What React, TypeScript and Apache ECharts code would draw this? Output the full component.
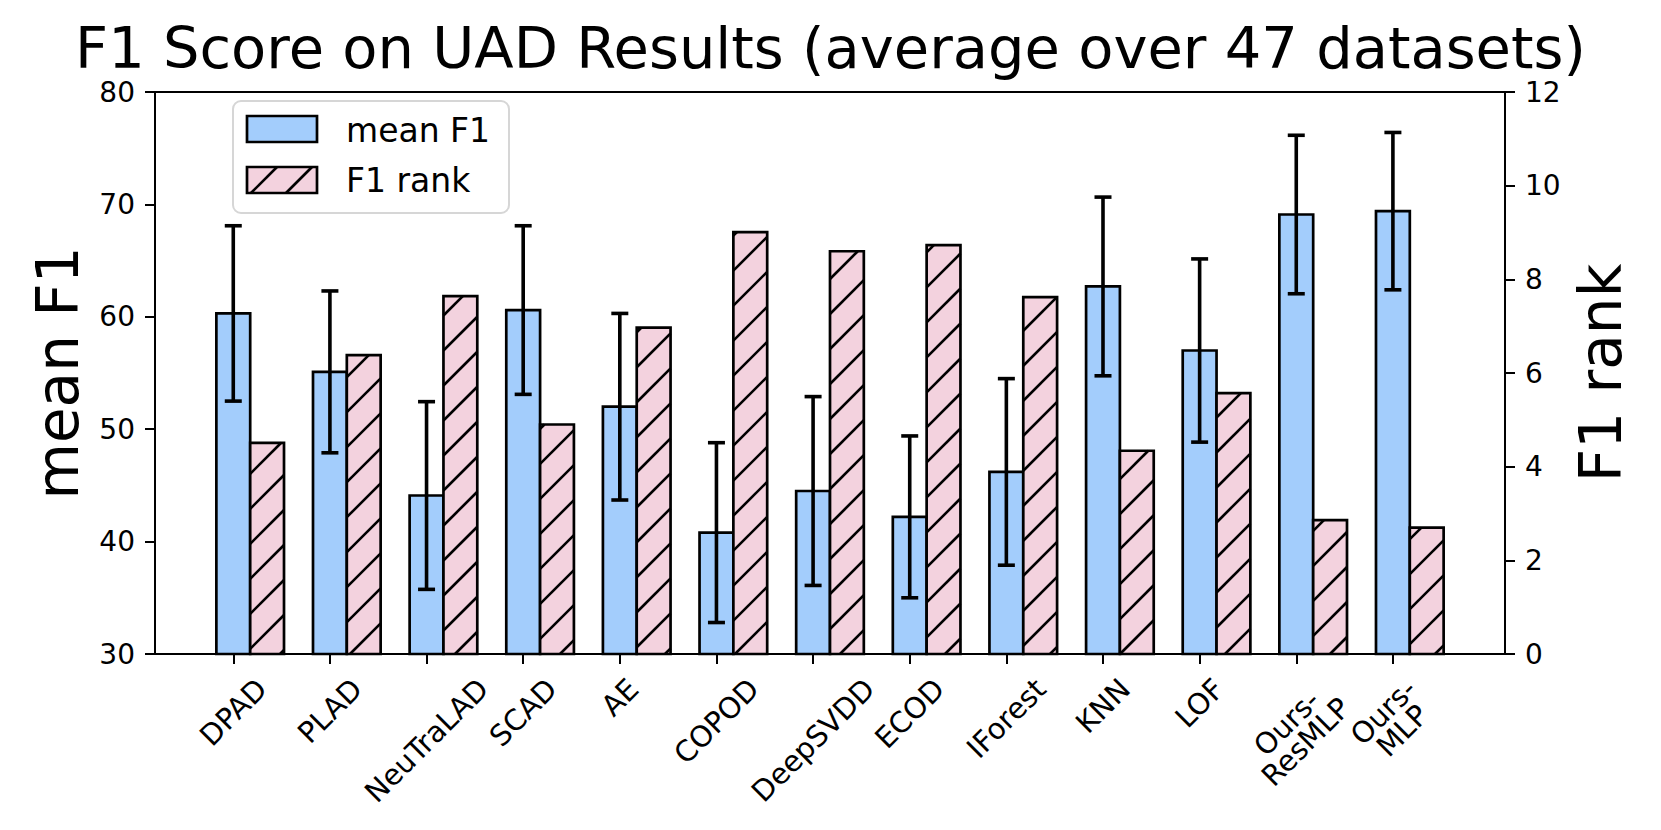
import React, { useEffect, useRef } from 'react';
import * as echarts from 'echarts';

const categories = [
  'DPAD', 'PLAD', 'NeuTraLAD', 'SCAD', 'AE', 'COPOD', 'DeepSVDD', 'ECOD',
  'IForest', 'KNN', 'LOF', 'Ours-\nResMLP', 'Ours-\nMLP',
];
const meanF1 = [60.3, 55.1, 44.1, 60.6, 52.0, 40.8, 44.5, 42.2, 46.2, 62.7, 57.0, 69.1, 69.4];
const f1Err = [7.8, 7.2, 8.35, 7.5, 8.3, 8.0, 8.4, 7.2, 8.3, 7.95, 8.15, 7.05, 7.0];
const f1Rank = [4.51, 6.38, 7.64, 4.9, 6.97, 9.01, 8.6, 8.73, 7.62, 4.34, 5.57, 2.86, 2.7];
const tickPositions = categories.map((_, i) => i);

const FONT = '"DejaVu Sans", sans-serif';
const BLUE = '#a3cdfc';
const PINK = '#f3d2de';
const BAR_W = 0.35;
const HATCH = 35;
const HATCH_PHASE = 24;
const LABEL_FS = 29;
const TICK_FS = 28;
const EDGE_W = 2.7;
const HATCH_W = 2.6;

function hatchLines(x0: number, y0: number, x1: number, y1: number) {
  const out: any[] = [];
  const cMin = x0 + y0;
  const cMax = x1 + y1;
  const k = Math.ceil((cMin - HATCH_PHASE) / HATCH);
  for (let c = k * HATCH + HATCH_PHASE; c <= cMax; c += HATCH) {
    const lo = Math.max(x0, c - y1);
    const hi = Math.min(x1, c - y0);
    if (hi - lo > 0.5) {
      out.push({
        type: 'line',
        shape: { x1: lo, y1: c - lo, x2: hi, y2: c - hi },
        style: { stroke: '#000', lineWidth: HATCH_W },
      });
    }
  }
  return out;
}

let measureCtx: CanvasRenderingContext2D | null = null;
function textWidth(s: string, fs: number) {
  if (!measureCtx) {
    const c = document.createElement('canvas');
    measureCtx = c.getContext('2d');
  }
  if (!measureCtx) return s.length * fs * 0.6;
  measureCtx.font = `${fs}px "DejaVu Sans"`;
  return measureCtx.measureText(s).width;
}

export default function App() {
  const ref = useRef<HTMLDivElement>(null);

  useEffect(() => {
    document.body.style.margin = '0';
    if (!ref.current) return;
    const chart = echarts.init(ref.current, null, { renderer: 'svg' });

    const legendElems: any[] = [
      {
        type: 'rect',
        shape: { x: 233, y: 101, width: 276, height: 112, r: 8 },
        style: { fill: '#fff', stroke: '#d6d6d6', lineWidth: 2 },
      },
      {
        type: 'rect',
        shape: { x: 247, y: 116, width: 70, height: 26 },
        style: { fill: BLUE, stroke: '#000', lineWidth: EDGE_W },
      },
      {
        type: 'rect',
        shape: { x: 247, y: 167, width: 70, height: 26 },
        style: { fill: PINK, stroke: 'none' },
      },
      ...hatchLines(247, 167, 317, 193),
      {
        type: 'rect',
        shape: { x: 247, y: 167, width: 70, height: 26 },
        style: { fill: 'none', stroke: '#000', lineWidth: EDGE_W },
      },
      {
        type: 'text',
        x: 346,
        y: 130,
        style: {
          text: 'mean F1', fill: '#000', fontSize: 33, fontFamily: FONT,
          textAlign: 'left', textVerticalAlign: 'middle',
        },
      },
      {
        type: 'text',
        x: 346,
        y: 180,
        style: {
          text: 'F1 rank', fill: '#000', fontSize: 33, fontFamily: FONT,
          textAlign: 'left', textVerticalAlign: 'middle',
        },
      },
    ];

    const option: any = {
      animation: false,
      backgroundColor: '#fff',
      title: {
        text: 'F1 Score on UAD Results (average over 47 datasets)',
        left: 'center',
        top: 22,
        padding: 0,
        textStyle: {
          fontSize: 57.5, lineHeight: 52, fontWeight: 'normal', fontFamily: FONT, color: '#000',
        },
      },
      grid: {
        left: 155, right: 156, top: 92, bottom: 176,
        show: true, borderColor: '#000', borderWidth: 2, backgroundColor: 'transparent',
        containLabel: false,
      },
      xAxis: {
        type: 'value',
        min: -0.81,
        max: 13.16,
        axisLine: { show: false, onZero: false },
        splitLine: { show: false },
        axisLabel: { show: false, customValues: tickPositions },
        axisTick: {
          show: true, customValues: tickPositions, length: 10,
          lineStyle: { color: '#000', width: 2 },
        },
      },
      yAxis: [
        {
          type: 'value', min: 30, max: 80, interval: 10, position: 'left',
          axisLine: { show: false, onZero: false },
          splitLine: { show: false },
          axisTick: { show: true, length: 10, lineStyle: { color: '#000', width: 2 } },
          axisLabel: { fontSize: TICK_FS, color: '#000', fontFamily: FONT, margin: 20 },
          name: 'mean F1', nameLocation: 'middle', nameRotate: 90, nameGap: 97,
          nameTextStyle: {
            fontSize: 58, fontFamily: FONT, color: '#000', align: 'center', verticalAlign: 'middle',
          },
        },
        {
          type: 'value', min: 0, max: 12, interval: 2, position: 'right',
          axisLine: { show: false, onZero: false },
          splitLine: { show: false },
          axisTick: { show: true, length: 10, lineStyle: { color: '#000', width: 2 } },
          axisLabel: { fontSize: TICK_FS, color: '#000', fontFamily: FONT, margin: 20 },
          name: 'F1 rank', nameLocation: 'middle', nameRotate: 90, nameGap: 93,
          nameTextStyle: {
            fontSize: 58, fontFamily: FONT, color: '#000', align: 'center', verticalAlign: 'middle',
          },
        },
      ],
      graphic: { elements: legendElems },
      series: [
        {
          type: 'custom',
          name: 'mean F1',
          xAxisIndex: 0,
          yAxisIndex: 0,
          data: meanF1.map((v, i) => [i, v]),
          renderItem: (params: any, api: any) => {
            const x = api.value(0);
            const v = api.value(1);
            const tl = api.coord([x - BAR_W / 2, v]);
            const br = api.coord([x + BAR_W / 2, 30]);
            return {
              type: 'rect',
              shape: { x: tl[0], y: tl[1], width: br[0] - tl[0], height: br[1] - tl[1] },
              style: { fill: BLUE, stroke: '#000', lineWidth: EDGE_W },
            };
          },
        },
        {
          type: 'custom',
          name: 'F1 rank',
          xAxisIndex: 0,
          yAxisIndex: 1,
          data: f1Rank.map((v, i) => [i + BAR_W, v]),
          renderItem: (params: any, api: any) => {
            const x = api.value(0);
            const v = api.value(1);
            const tl = api.coord([x - BAR_W / 2, v]);
            const br = api.coord([x + BAR_W / 2, 0]);
            const w = br[0] - tl[0];
            const h = br[1] - tl[1];
            return {
              type: 'group',
              children: [
                { type: 'rect', shape: { x: tl[0], y: tl[1], width: w, height: h }, style: { fill: PINK, stroke: 'none' } },
                ...hatchLines(tl[0], tl[1], br[0], br[1]),
                { type: 'rect', shape: { x: tl[0], y: tl[1], width: w, height: h }, style: { fill: 'none', stroke: '#000', lineWidth: EDGE_W } },
              ],
            };
          },
        },
        {
          type: 'custom',
          name: 'error',
          xAxisIndex: 0,
          yAxisIndex: 0,
          data: meanF1.map((v, i) => [i, v - f1Err[i], v + f1Err[i]]),
          renderItem: (params: any, api: any) => {
            const x = api.value(0);
            const lo = api.coord([x, api.value(1)]);
            const hi = api.coord([x, api.value(2)]);
            const cap = 8.5;
            const st = { stroke: '#000', lineWidth: 3.6 };
            return {
              type: 'group',
              children: [
                { type: 'line', shape: { x1: lo[0], y1: lo[1], x2: hi[0], y2: hi[1] }, style: st },
                { type: 'line', shape: { x1: lo[0] - cap, y1: lo[1], x2: lo[0] + cap, y2: lo[1] }, style: st },
                { type: 'line', shape: { x1: hi[0] - cap, y1: hi[1], x2: hi[0] + cap, y2: hi[1] }, style: st },
              ],
            };
          },
        },
        {
          type: 'custom',
          name: 'labels',
          xAxisIndex: 0,
          yAxisIndex: 0,
          silent: true,
          data: categories.map((_, i) => [i, 30]),
          renderItem: (params: any, api: any) => {
            const i = api.value(0);
            const p = api.coord([i, 30]);
            const text = categories[params.dataIndex];
            const lines = text.split('\n');
            const w = Math.max(...lines.map((l) => textWidth(l, LABEL_FS)));
            const lh = 0.92 * LABEL_FS;
            const hh = 0.968 * LABEL_FS + lh * (lines.length - 1);
            const bboxH = (w + hh) / Math.SQRT2;
            const top = p[1] + 10 + 10;
            return {
              type: 'text',
              x: p[0],
              y: top + bboxH / 2,
              rotation: Math.PI / 4,
              style: {
                text,
                fill: '#000',
                fontSize: LABEL_FS,
                fontFamily: FONT,
                lineHeight: lh,
                textAlign: 'center',
                textVerticalAlign: 'middle',
              },
            };
          },
        },
      ],
    };

    chart.setOption(option);
    return () => chart.dispose();
  }, []);

  return <div ref={ref} style={{ width: 1661, height: 830 }} />;
}
